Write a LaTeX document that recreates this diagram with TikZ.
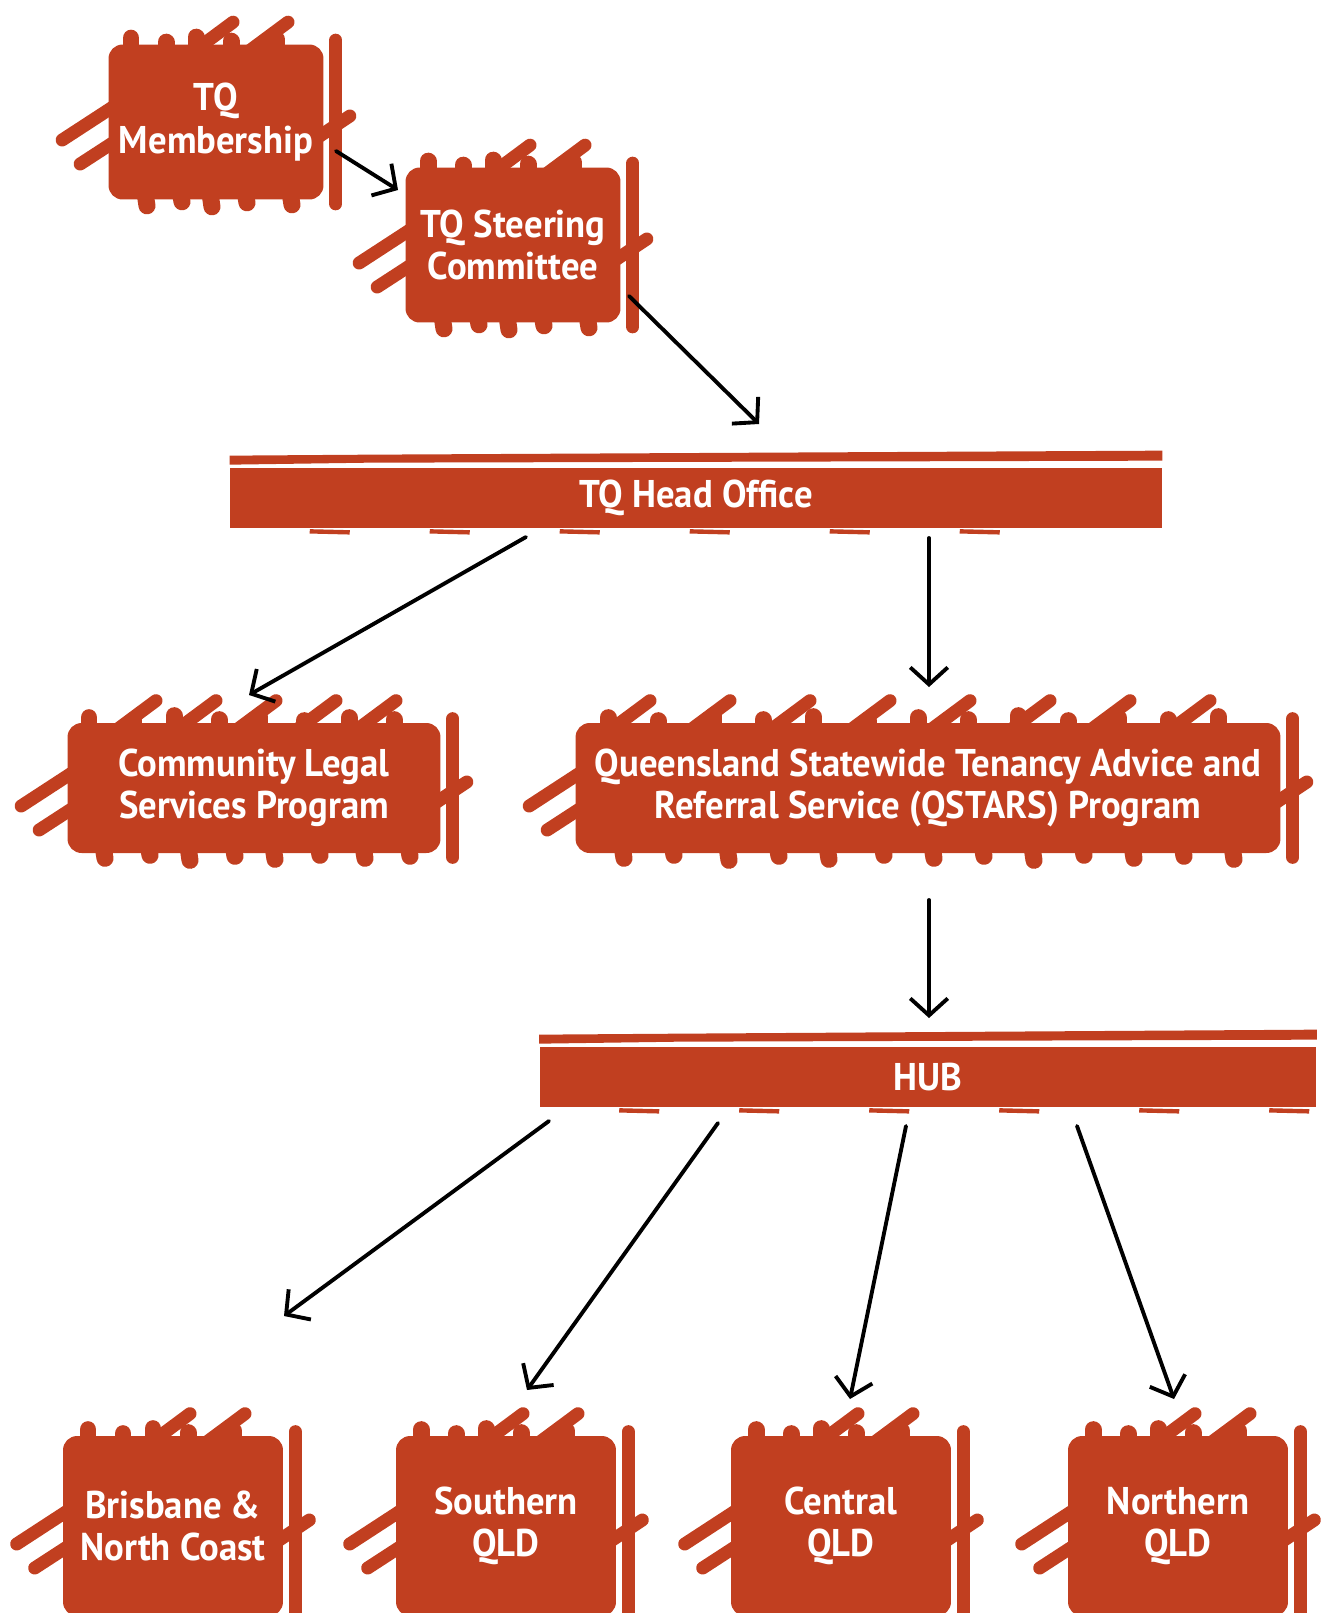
\documentclass[tikz,border=0pt]{standalone}
\usepackage{fontspec}
\setmainfont{PT Sans}[FakeStretch=0.95]
\usetikzlibrary{arrows.meta,backgrounds}
\definecolor{tqred}{HTML}{C13F20}

\tikzset{
  blob/.style={fill=tqred, rounded corners=8pt, text=white, align=center, inner sep=0pt,
    font=\fontsize{22pt}{24pt}\bfseries\selectfont},
  bar/.style={fill=tqred, text=white, inner sep=0pt, minimum height=1.2cm,
    font=\fontsize{22pt}{24pt}\bfseries\selectfont},
  scrib/.style={draw=tqred, line width=0.26cm, line cap=round},
  link/.style={draw=black, line width=2.2pt, line cap=round,
    -{Straight Barb[length=3.4mm,width=7.5mm,line width=2.2pt]}}
}

% hand drawn edge of a blob, #2 = top strokes, #3 = bumps (offset/height)
\newcommand{\scribble}[3]{%
\begin{scope}[on background layer]
  \draw[scrib] ([shift={(-46,18)}]#1.west) -- ([shift={(20,-25)}]#1.west);
  \draw[scrib] ([shift={(-28,42)}]#1.west) -- ([shift={(12,16)}]#1.west);
  \draw[scrib] ([shift={(-16,22)}]#1.east) -- ([shift={(26,-6)}]#1.east);
  \draw[scrib] ([shift={(12,-4)}]#1.north east) -- ([shift={(12,4)}]#1.south east);
  \foreach \dx in {#2}
    \draw[scrib] ([shift={(\dx-40,24)}]#1.north) -- ([shift={(\dx+22,-22)}]#1.north);
  \foreach \dx/\h in {#3}{
    \draw[scrib, line width=0.34cm] ([shift={(\dx,20)}]#1.north) -- ([shift={(\dx,-\h)}]#1.north);
    \draw[scrib, line width=0.34cm] ([shift={(\dx+12,-20)}]#1.south) -- ([shift={(\dx+16,\h)}]#1.south);}
\end{scope}}

% rough top strip and bottom edge of a bar
\newcommand{\rough}[1]{%
\begin{scope}[on background layer]
  \fill[tqred] ([shift={(0,-3)}]#1.north west) -- ([shift={(0,-12)}]#1.north west)
    -- ([shift={(140,-13)}]#1.north west) -- ([shift={(0,-17)}]#1.north east)
    -- ([shift={(0,-7)}]#1.north east) -- ([shift={(140,-5)}]#1.north west) -- cycle;
  \foreach \dx in {80,200,330,460,600,730}
    \draw[tqred, line width=2.5pt] ([shift={(\dx,3)}]#1.south west) -- ([shift={(\dx+40,4)}]#1.south west);
\end{scope}}

\begin{document}
\begin{tikzpicture}[x=0.02cm, y=-0.02cm]
\useasboundingbox (0,0) rectangle (1342,1613);
%
\node[blob, minimum width=4.3cm, minimum height=3.1cm] (member) at (216,122) {TQ\\Membership};
\node[blob, minimum width=4.3cm, minimum height=3.1cm] (steer) at (513,245) {TQ Steering\\Committee};
\node[bar, minimum width=18.64cm] (head) at (696,498) {TQ Head Office};
\node[blob, minimum width=7.46cm, minimum height=2.6cm] (legal) at (254,788) {Community Legal\\Services Program};
\node[blob, minimum width=14.1cm, minimum height=2.6cm] (qstars) at (928,788) {Queensland Statewide Tenancy Advice and\\Referral Service (QSTARS) Program};
\node[bar, minimum width=15.54cm] (hub) at (928,1077) {HUB};
\node[blob, minimum width=4.4cm, minimum height=3.6cm] (bris) at (173,1526) {Brisbane \&\\North Coast};
\node[blob, minimum width=4.4cm, minimum height=3.6cm] (south) at (506,1526) {Southern\\QLD};
\node[blob, minimum width=4.4cm, minimum height=3.6cm] (central) at (841,1526) {Central\\QLD};
\node[blob, minimum width=4.4cm, minimum height=3.6cm] (north) at (1178,1526) {Northern\\QLD};
%
\scribble{member}{-5,50}{-85/6,-50/2,-20/7,15/3,60/5}
\scribble{steer}{-5,50}{-85/6,-50/2,-20/7,15/3,60/5}
\scribble{legal}{-120,-60,0,60,120}{-165/5,-120/2,-80/7,-35/3,5/6,50/2,95/5,140/3}
\scribble{qstars}{-300,-220,-140,-60,20,100,180,260}{-320/5,-270/2,-215/7,-165/3,-115/6,-60/2,-10/5,40/3,90/7,140/2,190/5,240/3,290/6}
\scribble{bris}{-5,50}{-85/6,-50/2,-20/7,15/3,60/5}
\scribble{south}{-5,50}{-85/6,-50/2,-20/7,15/3,60/5}
\scribble{central}{-5,50}{-85/6,-50/2,-20/7,15/3,60/5}
\scribble{north}{-5,50}{-85/6,-50/2,-20/7,15/3,60/5}
\rough{head}
\rough{hub}
%
\coordinate (member-out) at (336,151);
\coordinate (steer-in) at (398,190);
\coordinate (steer-out) at (629,296);
\coordinate (head-in) at (759,424);
\coordinate (head-out1) at (526,537);
\coordinate (legal-in) at (249,695);
\coordinate (head-out2) at (929,538);
\coordinate (qstars-in) at (929,687);
\coordinate (qstars-out) at (929,900);
\coordinate (hub-in) at (929,1018);
\coordinate (hub-out1) at (549,1121);
\coordinate (bris-in) at (284,1316);
\coordinate (hub-out2) at (718,1123);
\coordinate (south-in) at (527,1390);
\coordinate (hub-out3) at (906,1126);
\coordinate (central-in) at (850,1399);
\coordinate (hub-out4) at (1077,1126);
\coordinate (north-in) at (1174,1399);
%
\draw[link] (member-out) -- (steer-in);
\draw[link] (steer-out) -- (head-in);
\draw[link] (head-out1) -- (legal-in);
\draw[link] (head-out2) -- (qstars-in);
\draw[link] (qstars-out) -- (hub-in);
\draw[link] (hub-out1) -- (bris-in);
\draw[link] (hub-out2) -- (south-in);
\draw[link] (hub-out3) -- (central-in);
\draw[link] (hub-out4) -- (north-in);
\end{tikzpicture}
\end{document}
